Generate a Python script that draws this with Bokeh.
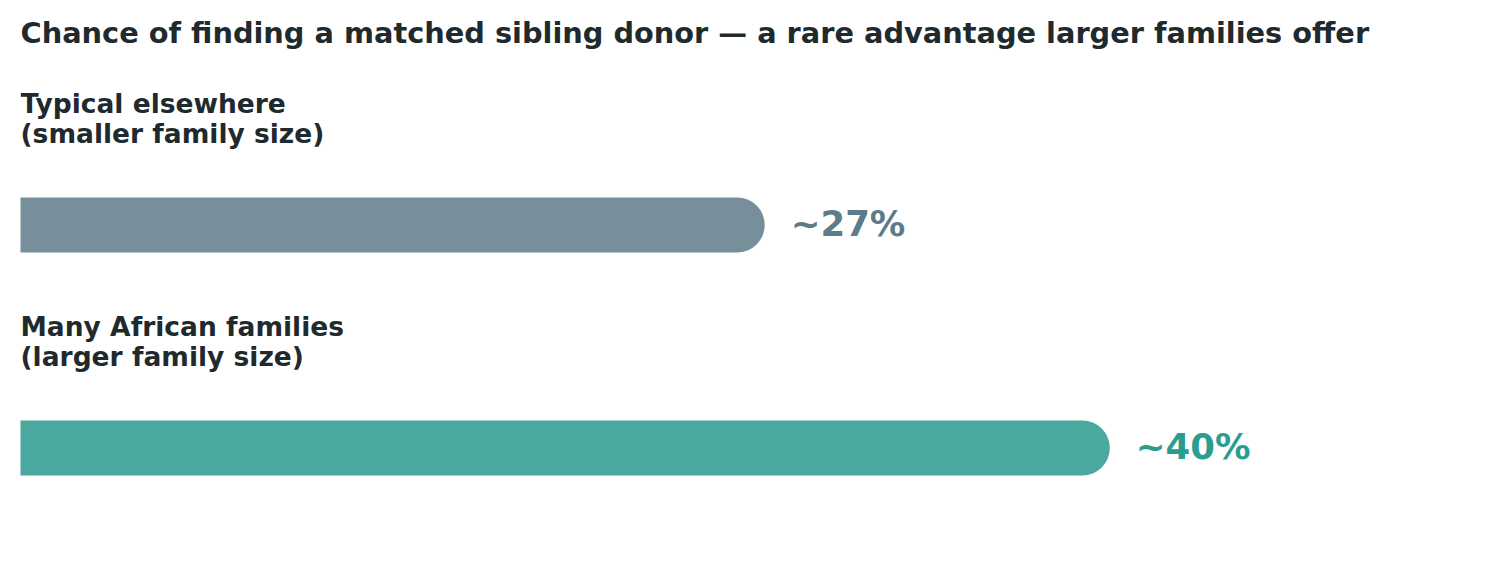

# Matched sibling donor chart - bokeh version
#
########################################################################################################################
# Imports
from bokeh.plotting import figure
from bokeh.models import Range1d, ColumnDataSource
from bokeh.core.properties import value
from bokeh.embed import file_html
from bokeh.resources import INLINE

########################################################################################################################
# Data

title = "Chance of finding a matched sibling donor \u2014 a rare advantage larger families offer"
groups = ["Typical elsewhere\n(smaller family size)", "Many African families\n(larger family size)"]
chances = [27, 40]
chance_labels = ["~27%", "~40%"]
bar_colors = ["#778f9a", "#4ba89e"]
text_colors = ["#5b7c88", "#2a9d8f"]

########################################################################################################################
# Layout (pixels, y measured from the top of the figure)

W, H = 1492, 571
row_gap = 223
first_bar = 224.5      # centre of first bar, from figure top
bar_h = 55


def ypos(from_top):
    return H - from_top


p = figure(width=W, height=H, output_backend="svg", toolbar_location=None,
           x_range=Range1d(0, 55), y_range=Range1d(0, H),
           min_border_left=20, min_border_right=12, min_border_top=0, min_border_bottom=0)
p.axis.visible = False
p.grid.visible = False
p.outline_line_color = None

bar_y = [ypos(first_bar + i * row_gap) for i in range(len(groups))]
line1 = [g.split("\n")[0] for g in groups]
line2 = [g.split("\n")[1] for g in groups]

src = ColumnDataSource(dict(y=bar_y, x0=[0] * len(chances), x1=chances, color=bar_colors,
                            tcolor=text_colors, lab=chance_labels, l1=line1, l2=line2,
                            y1=[y + 122 for y in bar_y], y2=[y + 92 for y in bar_y]))

# bars with a rounded end (left cap is clipped by the frame)
p.segment(x0="x0", y0="y", x1="x1", y1="y", line_width=bar_h, line_cap="round",
          line_color="color", source=src)

# value labels
p.text(x="x1", y="y", text="lab", text_color="tcolor", x_offset=bar_h / 2 + 26,
       y_offset=-2, text_baseline="middle", text_font=value("DejaVu Sans"),
       text_font_style="bold", text_font_size="35.5px", source=src)

# group labels
for col in ["l1", "l2"]:
    p.text(x=0, y="y1" if col == "l1" else "y2", text=col, text_color="#1f2a2e",
           text_baseline="alphabetic", text_font=value("DejaVu Sans"), text_font_style="bold",
           text_font_size="26.5px", source=src)

# title
p.text(x=[0], y=[ypos(32)], text=[title], text_color="#1f2a2e", text_baseline="alphabetic",
       text_font=value("DejaVu Sans"), text_font_style="bold", text_font_size="28.8px")

open("out.html", "w").write(file_html(p, INLINE))
